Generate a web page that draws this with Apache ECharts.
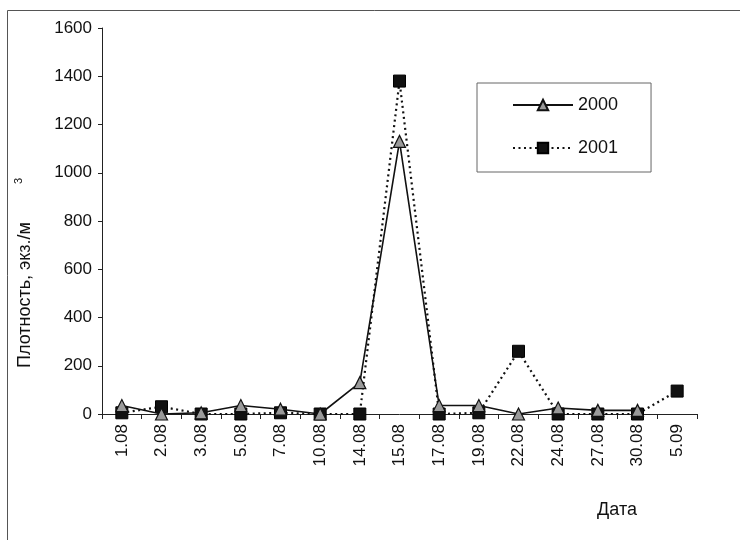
<!DOCTYPE html>
<html>
<head>
<meta charset="utf-8">
<script src="https://cdn.jsdelivr.net/npm/echarts@6/dist/echarts.min.js"></script>
<style>
  html, body { margin: 0; padding: 0; background: #fff; }
  #chart { width: 740px; height: 540px; }
</style>
</head>
<body>
<div id="chart"></div>
<script>
// Sampling dates
const dates = ['1.08', '2.08', '3.08', '5.08', '7.08', '10.08', '14.08', '15.08',
               '17.08', '19.08', '22.08', '24.08', '27.08', '30.08', '5.09'];

// Density, ind./m3
const values2000 = [35, 0, 5, 35, 20, 0, 130, 1130, 35, 35, 0, 25, 15, 15, null];
const values2001 = [5, 30, 0, 0, 5, 0, 0, 1380, 0, 5, 260, 0, 0, 0, 95];

const yTicks = [0, 200, 400, 600, 800, 1000, 1200, 1400, 1600];

const font = '"Liberation Sans", Arial, sans-serif';

const chart = echarts.init(document.getElementById('chart'));
chart.setOption({
  backgroundColor: '#ffffff',
  animation: false,
  textStyle: { fontFamily: font, color: '#111' },
  graphic: [
    {
      type: 'rect',
      shape: { x: 7.5, y: 10.5, width: 760, height: 560 },
      style: { fill: 'none', stroke: '#555', lineWidth: 1 },
      silent: true
    },
    {
      type: 'text',
      x: 25, y: 295,
      rotation: Math.PI / 2,
      style: {
        text: 'Плотность, экз./м',
        align: 'center',
        verticalAlign: 'middle',
        fontSize: 18,
        fontFamily: font,
        fill: '#111'
      }
    },
    {
      type: 'text',
      x: 19, y: 181,
      rotation: Math.PI / 2,
      style: {
        text: '3',
        align: 'center',
        verticalAlign: 'middle',
        fontSize: 11,
        fontFamily: font,
        fill: '#111'
      }
    },
    {
      type: 'text',
      x: 617, y: 510,
      style: {
        text: 'Дата',
        align: 'center',
        verticalAlign: 'middle',
        fontSize: 18,
        fontFamily: font,
        fill: '#111'
      }
    }
  ],
  legend: {
    orient: 'vertical',
    left: 477,
    top: 83,
    padding: [13, 33, 15, 35],
    itemGap: 25,
    itemWidth: 60,
    itemHeight: 13,
    borderColor: '#666',
    borderWidth: 1,
    textStyle: { fontSize: 18, fontFamily: font, color: '#111' },
    data: ['2000', '2001']
  },
  grid: { left: 102, right: 43, top: 28, bottom: 126, containLabel: false },
  xAxis: {
    type: 'category',
    data: dates,
    boundaryGap: true,
    axisLine: { lineStyle: { color: '#222', width: 1 } },
    axisTick: { show: true, inside: false, length: 5, lineStyle: { color: '#222' } },
    axisLabel: { rotate: 90, fontSize: 17, color: '#111', margin: 10, interval: 0 },
    splitLine: { show: false }
  },
  yAxis: {
    type: 'value',
    min: yTicks[0],
    max: yTicks[yTicks.length - 1],
    interval: yTicks[1] - yTicks[0],
    axisLine: { show: true, lineStyle: { color: '#222', width: 1 } },
    axisTick: { show: true, inside: false, length: 4, lineStyle: { color: '#222' } },
    axisLabel: { fontSize: 17, color: '#111', margin: 10, formatter: (v) => String(v) },
    splitLine: { show: false }
  },
  series: [
    {
      name: '2000',
      type: 'line',
      data: values2000,
      connectNulls: false,
      symbol: 'triangle',
      symbolSize: 12,
      itemStyle: { color: '#9a9a9a', borderColor: '#111', borderWidth: 1.2 },
      lineStyle: { color: '#111', width: 1.6, type: 'solid' },
      z: 3
    },
    {
      name: '2001',
      type: 'line',
      data: values2001,
      symbol: 'rect',
      symbolSize: 12,
      itemStyle: { color: '#111', borderColor: '#000', borderWidth: 1 },
      lineStyle: { color: '#111', width: 2.2, type: [2, 3.5] },
      z: 2
    }
  ]
});
</script>
</body>
</html>
